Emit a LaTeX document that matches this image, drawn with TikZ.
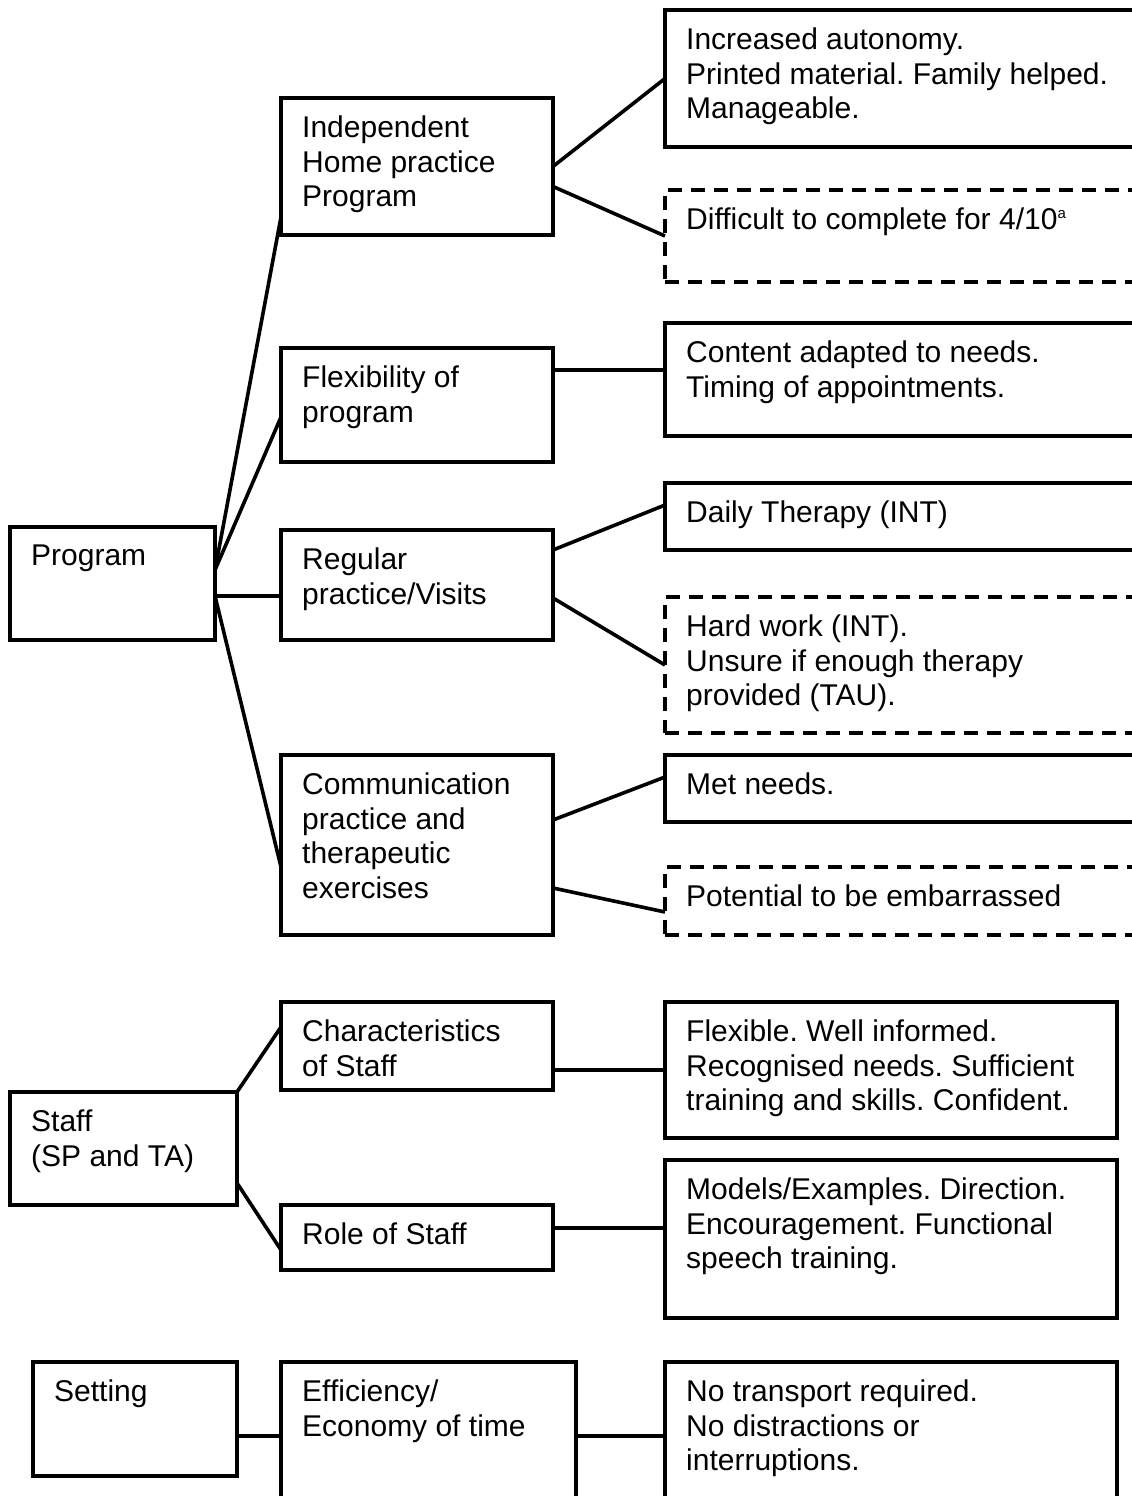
\documentclass[tikz,border=0pt]{standalone}
\usepackage{fontspec}
\setmainfont{Liberation Sans}
\usetikzlibrary{positioning}
\frenchspacing

\begin{document}
\begin{tikzpicture}[x=1pt,y=-1pt,
    box/.style 2 args={draw, line width=3.4pt, outer sep=0pt, inner sep=0pt,
            anchor=north west, minimum width=#1, minimum height=#2},
    dbox/.style 2 args={box={#1}{#2}, dash pattern=on 14pt off 9pt},
    txt/.style={anchor=north west, inner sep=0pt, xshift=21pt, yshift=-18pt,
            align=left, font=\fontsize{30}{34.5}\selectfont},
    link/.style={line width=3.6pt}]
            \clip (0,0) rectangle (1132,1496);
            % Program
            \node[box={205}{113},label={[txt]north west:{Program}}] (prog) at (10,527) {};
            \node[box={272}{137},label={[txt]north west:{Independent\\Home practice\\Program}}] (indep) at (281,98) {};
            \node[box={272}{114},label={[txt]north west:{Flexibility of\\program}}] (flex) at (281,348) {};
            \node[box={272}{110},label={[txt]north west:{Regular\\practice/Visits}}] (reg) at (281,530) {};
            \node[box={272}{180},label={[txt]north west:{Communication\\practice and\\therapeutic\\exercises}}] (comm) at (281,755) {};
            \node[box={480}{137},label={[txt]north west:{Increased autonomy.\\Printed material. Family helped.\\Manageable.}}] (incr) at (665,10) {};
            \node[dbox={480}{92},label={[txt]north west:{Difficult to complete for 4/10\raisebox{11pt}{\fontsize{15}{15}\selectfont a}}}] (diff) at (665,190) {};
            \node[box={480}{113},label={[txt]north west:{Content adapted to needs.\\Timing of appointments.}}] (cont) at (665,323) {};
            \node[box={480}{67},label={[txt]north west:{Daily Therapy (INT)}}] (daily) at (665,483) {};
            \node[dbox={480}{136},label={[txt]north west:{Hard work (INT).\\Unsure if enough therapy\\provided (TAU).}}] (hard) at (665,597) {};
            \node[box={480}{67},label={[txt]north west:{Met needs.}}] (met) at (665,755) {};
            \node[dbox={480}{68},label={[txt]north west:{Potential to be embarrassed}}] (pot) at (665,867) {};
            \draw[link] ([yshift=13.5pt]prog.east) -- ([yshift=-50.5pt]indep.west);
            \draw[link] ([yshift=13.5pt]prog.east) -- ([yshift=-12pt]flex.west);
            \draw[link] ([yshift=-12.5pt]prog.east) -- ([yshift=-11pt]reg.west);
            \draw[link] ([yshift=-12.5pt]prog.east) -- ([yshift=-22pt]comm.west);
            \draw[link] (indep.east) -- (incr.west);
            \draw[link] ([yshift=-20pt]indep.east) -- (diff.west);
            \draw[link] ([yshift=35pt]flex.east) -- ([yshift=9.5pt]cont.west);
            \draw[link] ([yshift=35pt]reg.east) -- ([yshift=11.5pt]daily.west);
            \draw[link] ([yshift=-13pt]reg.east) -- (hard.west);
            \draw[link] ([yshift=25pt]comm.east) -- ([yshift=11.5pt]met.west);
            \draw[link] ([yshift=-43pt]comm.east) -- ([yshift=-11pt]pot.west);
            % Staff
            \node[box={227}{113},label={[txt]north west:{Staff\\(SP and TA)}}] (staff) at (10,1092) {};
            \node[box={272}{88},label={[txt]north west:{Characteristics\\of Staff}}] (chars) at (281,1002) {};
            \node[box={272}{65},label={[txt]north west:{Role of Staff}}] (role) at (281,1205) {};
            \node[box={452}{136},label={[txt]north west:{Flexible. Well informed.\\Recognised needs. Sufficient\\training and skills. Confident.}}] (flexi) at (665,1002) {};
            \node[box={452}{158},label={[txt]north west:{Models/Examples. Direction.\\Encouragement. Functional\\speech training.}}] (models) at (665,1160) {};
            \draw[link] (staff.north east) -- ([yshift=19pt]chars.west);
            \draw[link] ([yshift=-34.5pt]staff.east) -- ([yshift=-12.5pt]role.west);
            \draw[link] ([yshift=-24pt]chars.east) -- (flexi.west);
            \draw[link] ([yshift=9.5pt]role.east) -- ([yshift=11pt]models.west);
            % Setting
            \node[box={204}{114},label={[txt]north west:{Setting}}] (setting) at (33,1362) {};
            \node[box={295}{150},label={[txt]north west:{Efficiency/\\Economy of time}}] (effic) at (281,1362) {};
            \node[box={452}{150},label={[txt]north west:{No transport required.\\No distractions or\\interruptions.}}] (notrans) at (665,1362) {};
            \draw[link] ([yshift=-17pt]setting.east) -- ([yshift=1pt]effic.west);
            \draw[link] ([yshift=1pt]effic.east) -- ([yshift=1pt]notrans.west);
\end{tikzpicture}
\end{document}
